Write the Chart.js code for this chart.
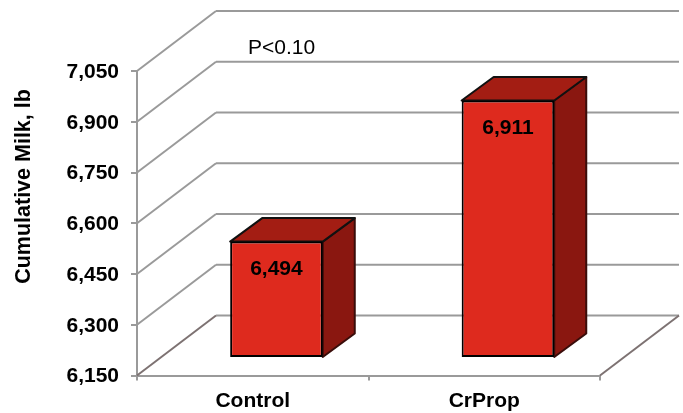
<!DOCTYPE html>
<html>
<head>
<meta charset="utf-8">
<script src="https://cdn.jsdelivr.net/npm/chart.js@4"></script>
<style>
  html, body { margin: 0; padding: 0; background: #fff; }
  canvas { display: block; }
</style>
</head>
<body>
<canvas id="milk-chart" width="683" height="413"></canvas>
<script>
// Datos
const categories = ['Control', 'CrProp'];
const milkValues = [6494, 6911];
const axisMin = 6150;
const axisMax = 7050;
const axisStep = 150;
const yAxisTitle = 'Cumulative Milk, lb';
const pNote = 'P<0.10';

// Profundidad de la caja 3D
const wallDx = 79, wallDy = -60;
const barShiftDx = 23.7, barShiftDy = -17.5;
const barDepthDx = 32, barDepthDy = -23.5;

const fontName = '"Liberation Sans", Arial, sans-serif';
const gridGray = '#9a9a9a';
const fmt = v => v.toLocaleString('en-US');

function line(ctx, x1, y1, x2, y2) {
    ctx.beginPath();
    ctx.moveTo(x1, y1);
    ctx.lineTo(x2, y2);
    ctx.stroke();
}

function face(ctx, pts, fill, stroke) {
    ctx.beginPath();
    pts.forEach((p, i) => i ? ctx.lineTo(p[0], p[1]) : ctx.moveTo(p[0], p[1]));
    ctx.closePath();
    ctx.fillStyle = fill;
    ctx.fill();
    ctx.lineWidth = 2;
    ctx.lineJoin = 'round';
    ctx.strokeStyle = stroke;
    ctx.stroke();
}

// Paredes y piso del grafico
const wallsPlugin = {
    id: 'walls',
    beforeDatasetsDraw(chart) {
        const { ctx, chartArea, scales } = chart;
        ctx.save();
        ctx.lineWidth = 2;
        ctx.strokeStyle = gridGray;
        scales.y.ticks.forEach((t, i) => {
            const y = scales.y.getPixelForValue(t.value);
            ctx.strokeStyle = i === 0 ? '#7d7272' : gridGray;
            line(ctx, chartArea.left, y, chartArea.left + wallDx, y + wallDy);
            ctx.strokeStyle = gridGray;
            line(ctx, chartArea.left + wallDx, y + wallDy, chartArea.right + wallDx, y + wallDy);
        });
        // borde derecho del piso
        ctx.strokeStyle = '#7d7272';
        line(ctx, chartArea.right, chartArea.bottom, chartArea.right + wallDx, chartArea.bottom + wallDy);
        ctx.restore();
    }
};

// Caras laterales y superiores; la cara frontal la dibuja Chart.js
const boxPlugin = {
    id: 'box',
    beforeDatasetDraw(chart, args) {
        const { ctx } = chart;
        ctx.save();
        ctx.translate(barShiftDx, barShiftDy);
        args.meta.data.forEach(bar => {
            const l = bar.x - bar.width / 2, r = bar.x + bar.width / 2;
            const t = bar.y, b = bar.base;
            face(ctx, [[r, t], [r + barDepthDx, t + barDepthDy], [r + barDepthDx, b + barDepthDy], [r, b]], '#8a1710', '#3a0d0a');
            face(ctx, [[l, t], [l + barDepthDx, t + barDepthDy], [r + barDepthDx, t + barDepthDy], [r, t]], '#a31d13', '#111');
        });
    },
    afterDatasetDraw(chart, args) {
        const { ctx } = chart;
        ctx.fillStyle = '#000';
        ctx.font = 'bold 21px ' + fontName;
        ctx.textAlign = 'center';
        ctx.textBaseline = 'middle';
        args.meta.data.forEach((bar, i) => {
            ctx.fillText(fmt(milkValues[i]), bar.x, bar.y + 28);
        });
        ctx.restore();
    },
    afterDraw(chart) {
        const { ctx, chartArea } = chart;
        ctx.save();
        ctx.fillStyle = '#000';
        ctx.font = '21px ' + fontName;
        ctx.textBaseline = 'middle';
        ctx.fillText(pNote, chartArea.left + 111, chartArea.top - 23);
        // titulo del eje Y, no esta centrado en el eje
        ctx.translate(24, chartArea.top + 115.5);
        ctx.rotate(-Math.PI / 2);
        ctx.font = 'bold 21.5px ' + fontName;
        ctx.textAlign = 'center';
        ctx.fillText(yAxisTitle, 0, 0);
        ctx.restore();
    }
};

new Chart(document.getElementById('milk-chart').getContext('2d'), {
    type: 'bar',
    data: {
        labels: categories,
        datasets: [{
            data: milkValues,
            base: axisMin,
            backgroundColor: '#de2a1e',
            borderColor: '#000',
            borderWidth: 2,
            borderSkipped: false,
            barPercentage: 0.4,
            categoryPercentage: 1,
            clip: false
        }]
    },
    options: {
        responsive: false,
        animation: false,
        layout: { padding: { top: 71, right: 83, bottom: 0, left: 0 } },
        plugins: { legend: { display: false }, tooltip: { enabled: false } },
        scales: {
            x: {
                afterFit: s => { s.height = 37.5; },
                grid: { drawOnChartArea: false, tickLength: 5, color: gridGray, lineWidth: 2 },
                border: { color: gridGray, width: 2 },
                ticks: { color: '#000', padding: 8, maxRotation: 0, font: { family: fontName, size: 21, weight: 'bold' } }
            },
            y: {
                min: axisMin,
                max: axisMax,
                afterFit: s => { s.width = 137; },
                grid: { drawOnChartArea: false, tickLength: 6, color: gridGray, lineWidth: 2 },
                border: { color: gridGray, width: 2 },
                ticks: {
                    stepSize: axisStep,
                    color: '#000',
                    padding: 12,
                    labelOffset: 1,
                    callback: v => fmt(v),
                    font: { family: fontName, size: 21, weight: 'bold' }
                }
            }
        }
    },
    plugins: [wallsPlugin, boxPlugin]
});
</script>
</body>
</html>
